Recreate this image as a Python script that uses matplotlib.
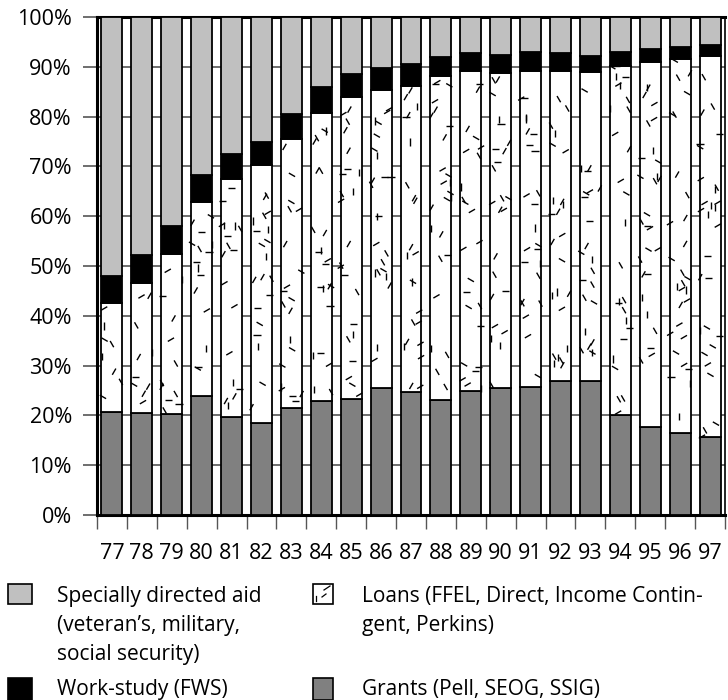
import matplotlib
matplotlib.use('Agg')
import matplotlib.pyplot as plt
import numpy as np
from matplotlib.patches import Rectangle
from matplotlib.collections import LineCollection
from matplotlib.lines import Line2D

plt.rcParams['font.family'] = ['Open Sans', 'DejaVu Sans']

# Share of aid by type, percent, award years 1977-1997
years = ['77', '78', '79', '80', '81', '82', '83', '84', '85', '86', '87',
         '88', '89', '90', '91', '92', '93', '94', '95', '96', '97']
grants = [20.7, 20.5, 20.2, 23.8, 19.7, 18.4, 21.4, 22.8, 23.2, 25.6, 24.6,
          23.0, 25.0, 25.6, 25.8, 26.9, 27.0, 20.1, 17.7, 16.4, 15.7]
loans = [21.9, 26.1, 32.2, 39.0, 47.8, 51.9, 54.1, 58.0, 60.8, 59.7, 61.5,
         65.2, 64.2, 63.1, 63.4, 62.2, 61.9, 70.1, 73.3, 75.2, 76.4]
work_study = [5.4, 5.6, 5.6, 5.5, 5.0, 4.6, 5.0, 5.2, 4.6, 4.5, 4.5,
              3.8, 3.5, 3.6, 3.8, 3.6, 3.3, 2.8, 2.5, 2.4, 2.2]
special = [100 - g - l - w for g, l, w in zip(grants, loans, work_study)]

W, H = 728, 700
fig = plt.figure(figsize=(W / 100, H / 100), dpi=100)
ax = fig.add_axes([97 / W, 1 - 515 / H, 628 / W, 498 / H])

x = np.arange(len(years))
bw = 0.7
kw = dict(width=bw, edgecolor='black', linewidth=1.3, zorder=3)
b_g = ax.bar(x, grants, color='#808080', **kw)
b_l = ax.bar(x, loans, bottom=grants, color='white', **kw)
bot = np.array(grants) + np.array(loans)
b_w = ax.bar(x, work_study, bottom=bot, color='black', **kw)
bot = bot + np.array(work_study)
b_s = ax.bar(x, special, bottom=bot, color='#c0c0c0', **kw)

ax.set_xlim(-0.5, len(years) - 0.5)
ax.set_ylim(0, 100)

# scattered-dash texture for the loan segments (decoration only)
px_x = 628 / len(years)
px_y = 498 / 100
rng = np.random.default_rng(11)
angles = np.deg2rad([0, 30, 60, 90, 120, 150])
dash = 3.6
for p in b_l:
    x0, y0, w, h = p.get_x(), p.get_y(), p.get_width(), p.get_height()
    n = int(w * px_x * h * px_y / 270)
    cx = rng.uniform(x0, x0 + w, n)
    cy = rng.uniform(y0, y0 + h, n)
    a = rng.choice(angles, n)
    dx = dash * np.cos(a) / px_x
    dy = dash * np.sin(a) / px_y
    segs = [[(cx[i] - dx[i], cy[i] - dy[i]), (cx[i] + dx[i], cy[i] + dy[i])]
            for i in range(n)]
    lc = LineCollection(segs, colors='black', linewidths=1.0, zorder=3.5)
    lc.set_clip_path(p)
    ax.add_collection(lc)

ax.set_yticks(np.arange(0, 101, 10))
ax.set_yticklabels(['%d%%' % v for v in range(0, 101, 10)])
ax.yaxis.grid(True, color='#555555', linewidth=1.2, zorder=0)
ax.set_axisbelow(True)
ax.tick_params(axis='y', length=10, width=1.2, color='#555555',
               labelsize=15.5, pad=8)

ax.set_xticks(x)
ax.set_xticklabels(years)
ax.set_xticks(np.arange(-0.5, len(years)), minor=True)
ax.tick_params(axis='x', which='major', length=0, labelsize=15.5, pad=20)
ax.tick_params(axis='x', which='minor', length=10, width=1.0,
               color='#555555')

for s in ['left', 'bottom', 'top']:
    ax.spines[s].set_linewidth(2.2)
ax.spines['right'].set_linewidth(1.2)

# legend, laid out by hand
def fx(px):
    return px / W


def fy(py):
    return 1 - py / H


def box(x0, y0, x1, y1, color):
    fig.add_artist(Rectangle((fx(x0), fy(y1)), fx(x1) - fx(x0), fy(y0) - fy(y1),
                             facecolor=color, edgecolor='black', linewidth=1.2,
                             transform=fig.transFigure))


def lines(x0, y0, txt):
    for i, t in enumerate(txt):
        fig.text(fx(x0), fy(y0 + i * 29), t, fontsize=15, va='baseline',
                 ha='left')


box(8, 584, 32, 604, '#c0c0c0')
lines(57, 602, ['Specially directed aid', '(veteran\u2019s, military,',
                'social security)'])
box(313, 584, 333, 604, 'white')
fig.add_artist(Line2D([fx(324), fx(330)], [fy(590), fy(586)], color='black',
                      linewidth=0.9, transform=fig.transFigure))
fig.add_artist(Line2D([fx(316), fx(316)], [fy(596), fy(601)], color='black',
                      linewidth=0.9, transform=fig.transFigure))
fig.add_artist(Line2D([fx(322), fx(326)], [fy(597), fy(594)], color='black',
                      linewidth=0.9, transform=fig.transFigure))
lines(362, 602, ['Loans (FFEL, Direct, Income Contin-', 'gent, Perkins)'])
box(8, 678, 32, 700, 'black')
lines(57, 695, ['Work-study (FWS)'])
box(313, 678, 333, 700, '#808080')
lines(362, 695, ['Grants (Pell, SEOG, SSIG)'])

fig.savefig('out.png', dpi=100)
